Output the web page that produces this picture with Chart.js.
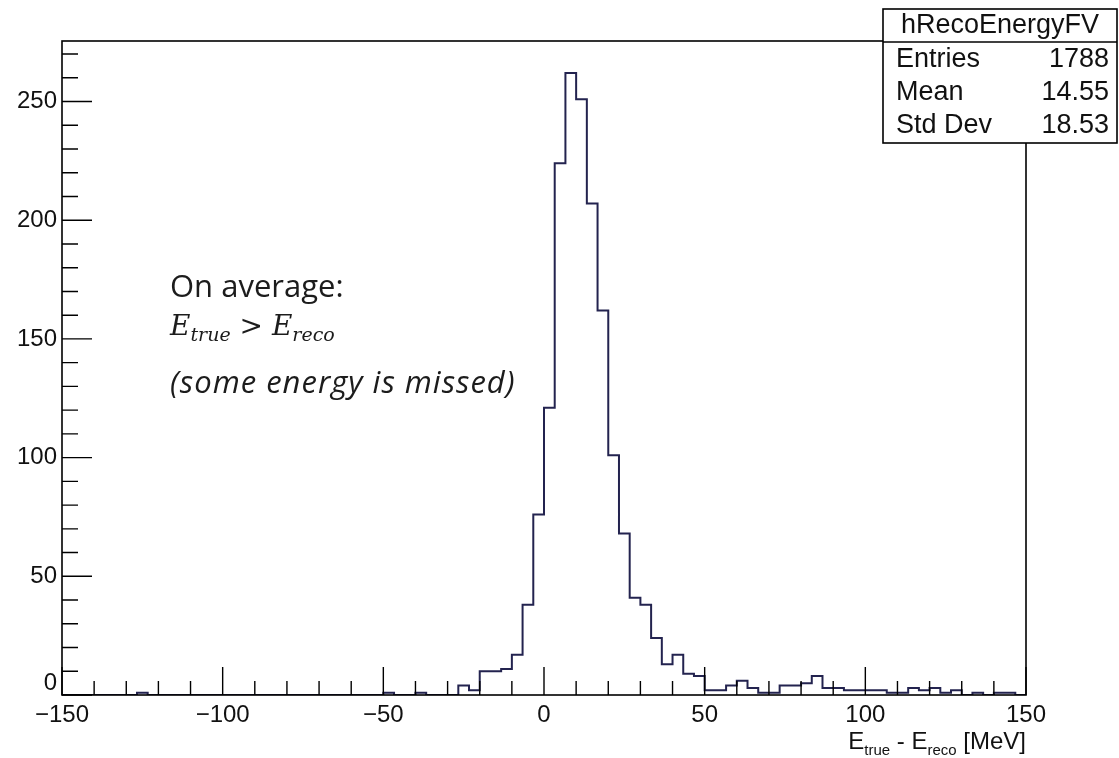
<!DOCTYPE html>
<html>
<head>
<meta charset="utf-8">
<script src="https://cdn.jsdelivr.net/npm/chart.js@4.4.1/dist/chart.umd.min.js"></script>
<style>
  html, body { margin: 0; padding: 0; background: #fff; }
  #wrap { width: 1119px; height: 758px; position: relative; }
</style>
</head>
<body>
<div id="wrap"><canvas id="hist"></canvas></div>
<script>
// histogram: 90 bins from -150 to 150 MeV
const histName = 'hRecoEnergyFV';
const xMin = -150;
const xMax = 150;
const binWidth = 10 / 3;
const counts = [
  0, 0, 0, 0, 0, 0, 0, 1, 0, 0,
  0, 0, 0, 0, 0, 0, 0, 0, 0, 0,
  0, 0, 0, 0, 0, 0, 0, 0, 0, 0,
  1, 0, 0, 1, 0, 0, 0, 4, 2, 10,
  10, 11, 17, 38, 76, 121, 224, 262, 251, 207,
  162, 101, 68, 41, 38, 24, 13, 17, 9, 8,
  2, 2, 4, 6, 3, 1, 1, 4, 4, 5,
  8, 3, 3, 2, 2, 2, 2, 1, 1, 3,
  2, 3, 1, 2, 0, 1, 0, 1, 1, 0
];
const xTicks = [-150, -100, -50, 0, 50, 100, 150];
const yTicks = [0, 50, 100, 150, 200, 250];
const yMax = 275.5;
const xMinorStep = 10;
const yMinorStep = 10;
const statLabels = ['Entries', 'Mean', 'Std Dev'];
const statValues = ['1788', '14.55', '18.53'];

const lineColor = '#23234f';
const labelFont = '24px "Liberation Sans", Arial, sans-serif';

// left bin edges + closing edge for the step outline
const points = counts.map((c, i) => ({ x: xMin + i * binWidth, y: c }));
points.push({ x: xMax, y: 0 });

const minus = v => (v < 0 ? '\u2212' + Math.abs(v) : String(v));

const rootFrame = {
  id: 'rootFrame',
  afterDatasetsDraw(chart) {
    const { ctx, chartArea: a, scales: { x, y } } = chart;
    ctx.save();
    ctx.strokeStyle = '#000';
    ctx.lineWidth = 1.6;
    ctx.strokeRect(a.left, a.top, a.right - a.left, a.bottom - a.top);

    // inward ticks, ROOT style
    ctx.lineWidth = 1.4;
    ctx.beginPath();
    for (let v = xMin; v <= xMax + 0.01; v += xMinorStep) {
      const px = x.getPixelForValue(v);
      const len = xTicks.includes(v) ? 28 : 14;
      ctx.moveTo(px, a.bottom);
      ctx.lineTo(px, a.bottom - len);
    }
    for (let v = 0; v <= yMax; v += yMinorStep) {
      const py = y.getPixelForValue(v);
      const len = yTicks.includes(v) ? 30 : 16;
      ctx.moveTo(a.left, py);
      ctx.lineTo(a.left + len, py);
    }
    ctx.stroke();

    // y labels (the 0 is lifted like in ROOT)
    ctx.fillStyle = '#111';
    ctx.font = labelFont;
    ctx.textAlign = 'right';
    ctx.textBaseline = 'middle';
    yTicks.forEach(v => {
      const py = y.getPixelForValue(v) - (v === 0 ? 12 : 0);
      ctx.fillText(String(v), a.left - 5, py);
    });

    // axis title with subscripts, right aligned to frame
    const big = '24px "Liberation Sans", Arial, sans-serif';
    const sub = '15px "Liberation Sans", Arial, sans-serif';
    const parts = [
      ['E', big, 0], ['true', sub, 6], [' - E', big, 0], ['reco', sub, 6], [' [MeV]', big, 0]
    ];
    let total = 0;
    parts.forEach(p => { ctx.font = p[1]; total += ctx.measureText(p[0]).width; });
    let tx = a.right - total;
    const base = 749;
    ctx.textAlign = 'left';
    ctx.textBaseline = 'alphabetic';
    parts.forEach(p => {
      ctx.font = p[1];
      ctx.fillText(p[0], tx, base + p[2]);
      tx += ctx.measureText(p[0]).width;
    });
    ctx.restore();
  },
  afterDraw(chart) {
    const { ctx } = chart;
    ctx.save();
    // stats box
    const bx = 883, by = 9, bw = 234, bh = 134;
    ctx.fillStyle = '#fff';
    ctx.fillRect(bx, by, bw, bh);
    ctx.strokeStyle = '#000';
    ctx.lineWidth = 1.6;
    ctx.strokeRect(bx, by, bw, bh);
    ctx.beginPath();
    ctx.moveTo(bx, by + 33);
    ctx.lineTo(bx + bw, by + 33);
    ctx.stroke();
    ctx.fillStyle = '#111';
    ctx.font = '27px "Liberation Sans", Arial, sans-serif';
    ctx.textBaseline = 'middle';
    ctx.textAlign = 'center';
    ctx.fillText(histName, bx + bw / 2, by + 17);
    statLabels.forEach((s, i) => {
      const ry = by + 51 + i * 33;
      ctx.textAlign = 'left';
      ctx.fillText(s, bx + 13, ry);
      ctx.textAlign = 'right';
      ctx.fillText(statValues[i], bx + bw - 8, ry);
    });

    // annotation
    ctx.fillStyle = '#1c1c1c';
    ctx.textAlign = 'left';
    ctx.textBaseline = 'alphabetic';
    ctx.font = '31px "Open Sans", "Noto Sans", sans-serif';
    ctx.fillText('On average:', 170, 297);
    let mx = 170;
    const mathParts = [
      ['E', 'italic 28px "DejaVu Serif", serif', 0],
      ['true', 'italic 19px "DejaVu Serif", serif', 6],
      [' > ', '28px "DejaVu Serif", serif', 0],
      ['E', 'italic 28px "DejaVu Serif", serif', 0],
      ['reco', 'italic 19px "DejaVu Serif", serif', 6]
    ];
    mathParts.forEach(p => {
      ctx.font = p[1];
      ctx.fillText(p[0], mx, 335 + p[2]);
      mx += ctx.measureText(p[0]).width;
    });
    ctx.font = 'italic 31px "Open Sans", "Noto Sans", sans-serif';
    ctx.letterSpacing = '1px';
    ctx.fillText('(some energy is missed)', 170, 393);
    ctx.restore();
  }
};

new Chart(document.getElementById('hist'), {
  type: 'scatter',
  data: {
    datasets: [{
      label: histName,
      data: points,
      showLine: true,
      stepped: 'before',
      borderColor: lineColor,
      borderWidth: 2,
      pointRadius: 0,
      fill: false
    }]
  },
  options: {
    responsive: true,
    maintainAspectRatio: false,
    animation: false,
    layout: { padding: { top: 41, right: 93, left: 0, bottom: 0 } },
    plugins: { legend: { display: false }, tooltip: { enabled: false } },
    scales: {
      x: {
        type: 'linear',
        min: xMin,
        max: xMax,
        grid: { display: false, drawTicks: false },
        border: { display: false },
        afterBuildTicks: s => { s.ticks = xTicks.map(v => ({ value: v })); },
        afterFit: s => { s.height = 63; },
        ticks: {
          padding: 6,
          maxRotation: 0,
          color: '#111',
          font: { family: '"Liberation Sans", Arial, sans-serif', size: 24 },
          callback: v => minus(v)
        }
      },
      y: {
        min: 0,
        max: yMax,
        grid: { display: false, drawTicks: false },
        border: { display: false },
        afterFit: s => { s.width = 62; },
        ticks: { display: false }
      }
    }
  },
  plugins: [rootFrame]
});
</script>
</body>
</html>
